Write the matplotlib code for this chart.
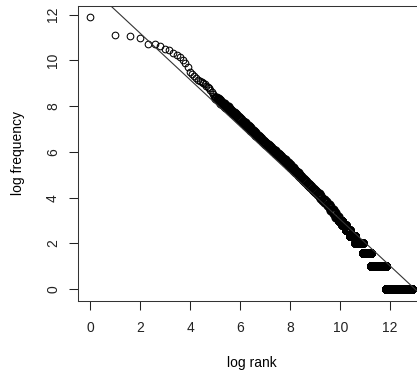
import numpy as np
import matplotlib.pyplot as plt

plt.rcParams['font.family'] = ['Liberation Sans', 'DejaVu Sans']

# log frequency of the first ranked words (rank 1, 2, 3, ...)
top_logfreq = [11.88, 11.10, 11.08, 10.99, 10.73, 10.70, 10.64, 10.52, 10.44, 10.32,
               10.24, 10.16, 10.04, 9.87, 9.70, 9.50, 9.40, 9.33, 9.22, 9.14,
               9.10, 9.05, 9.00, 8.96, 8.90, 8.83, 8.78, 8.70, 8.62, 8.52,
               8.46, 8.41]

# middle of the curve
mid_logrank = [5.05, 5.10, 5.15, 5.20, 5.25, 5.30, 5.35, 5.40, 5.45, 5.50,
               5.55, 5.60, 5.65, 5.70, 5.75, 5.80, 5.85, 5.90, 5.95, 6.00,
               6.05, 6.10, 6.15, 6.20, 6.25, 6.30, 6.35, 6.40, 6.45, 6.50,
               6.55, 6.60, 6.65, 6.70, 6.75, 6.80, 6.85, 6.90, 6.95, 7.00,
               7.05, 7.10, 7.15, 7.20, 7.25, 7.30, 7.35, 7.40, 7.45, 7.50,
               7.55, 7.60, 7.65, 7.70, 7.75, 7.80, 7.85, 7.90, 7.95, 8.00,
               8.05, 8.10, 8.15, 8.20, 8.25, 8.30, 8.35, 8.40, 8.45, 8.50,
               8.55, 8.60, 8.65, 8.70, 8.75, 8.80, 8.85, 8.90, 8.95, 9.00,
               9.05, 9.10, 9.15, 9.20, 9.25, 9.30, 9.35, 9.40, 9.45, 9.50,
               9.55, 9.60, 9.65, 9.70, 9.75, 9.80, 9.85, 9.90]
mid_logfreq = [8.36, 8.32, 8.25, 8.21, 8.15, 8.11, 8.09, 8.02, 7.98, 7.95,
               7.88, 7.85, 7.79, 7.72, 7.69, 7.66, 7.60, 7.54, 7.50, 7.46,
               7.39, 7.33, 7.28, 7.25, 7.18, 7.12, 7.07, 7.04, 6.97, 6.91,
               6.87, 6.83, 6.76, 6.70, 6.66, 6.62, 6.56, 6.49, 6.45, 6.41,
               6.35, 6.29, 6.26, 6.22, 6.16, 6.10, 6.06, 6.03, 5.97, 5.91,
               5.87, 5.83, 5.77, 5.71, 5.67, 5.63, 5.56, 5.50, 5.45, 5.41,
               5.34, 5.28, 5.23, 5.19, 5.12, 5.06, 5.01, 4.97, 4.90, 4.84,
               4.79, 4.75, 4.68, 4.62, 4.57, 4.52, 4.46, 4.39, 4.35, 4.30,
               4.24, 4.17, 4.17, 4.09, 4.00, 3.91, 3.91, 3.81, 3.81, 3.70,
               3.70, 3.585, 3.46, 3.46, 3.32, 3.32, 3.17, 3.17]

# low frequency plateaus: log frequency and log rank range of each run
tail_logfreq = [3.0, 2.807, 2.585, 2.322, 2.0, 1.585, 1.0, 0.0]
tail_start = [9.95, 10.08, 10.22, 10.38, 10.60, 10.90, 11.23, 11.84]
tail_end = [10.08, 10.22, 10.38, 10.60, 10.90, 11.23, 11.84, 12.88]

# fitted line
fit_intercept = 13.23
fit_slope = -1.018

xticks = [0, 2, 4, 6, 8, 10, 12]
yticks = [0, 2, 4, 6, 8, 10, 12]

top_x = np.log2(np.arange(1, len(top_logfreq) + 1))
tx, ty = [], []
for f, a, b in zip(tail_logfreq, tail_start, tail_end):
    ranks = np.arange(int(round(2 ** a)), int(round(2 ** b)) + 1)
    tx += list(np.log2(ranks))
    ty += [f] * len(ranks)

fig = plt.figure(figsize=(4.17, 3.76), dpi=100)
ax = fig.add_axes([78 / 417, 75.3 / 376, 347 / 417, 294.7 / 376])

ax.plot(top_x, top_logfreq, 'o', mfc='none', mec='black', ms=4.8, mew=0.75)
ax.plot(mid_logrank, mid_logfreq, 'o', mfc='none', mec='black', ms=5.8, mew=1.7)
ax.plot(tx, ty, 'o', mfc='none', mec='black', ms=4.8, mew=1.2)
ax.axline((0, fit_intercept), slope=fit_slope, color='#333333', lw=0.8)

ax.set_xlim(-0.48, 13.39)
ax.set_ylim(-0.5, 12.38)
ax.set_xticks(xticks)
ax.set_yticks(yticks)
ax.tick_params(length=6.5, width=0.75, labelsize=10, colors='#222222')
ax.tick_params(axis='x', pad=8)
ax.tick_params(axis='y', labelleft=False)
# rotated y tick labels, R style
for v in yticks:
    ax.text(-0.072, v, str(v), transform=ax.get_yaxis_transform(),
            rotation=90, ha='center', va='center', fontsize=10, color='#222222')
for s in ax.spines.values():
    s.set_linewidth(0.75)
    s.set_color('#333333')

ax.set_xlabel('log rank', fontsize=10, labelpad=15)
ax.set_ylabel('log frequency', fontsize=10)
ax.yaxis.set_label_coords(-0.153, 0.5)

fig.savefig('out.png', dpi=100)
